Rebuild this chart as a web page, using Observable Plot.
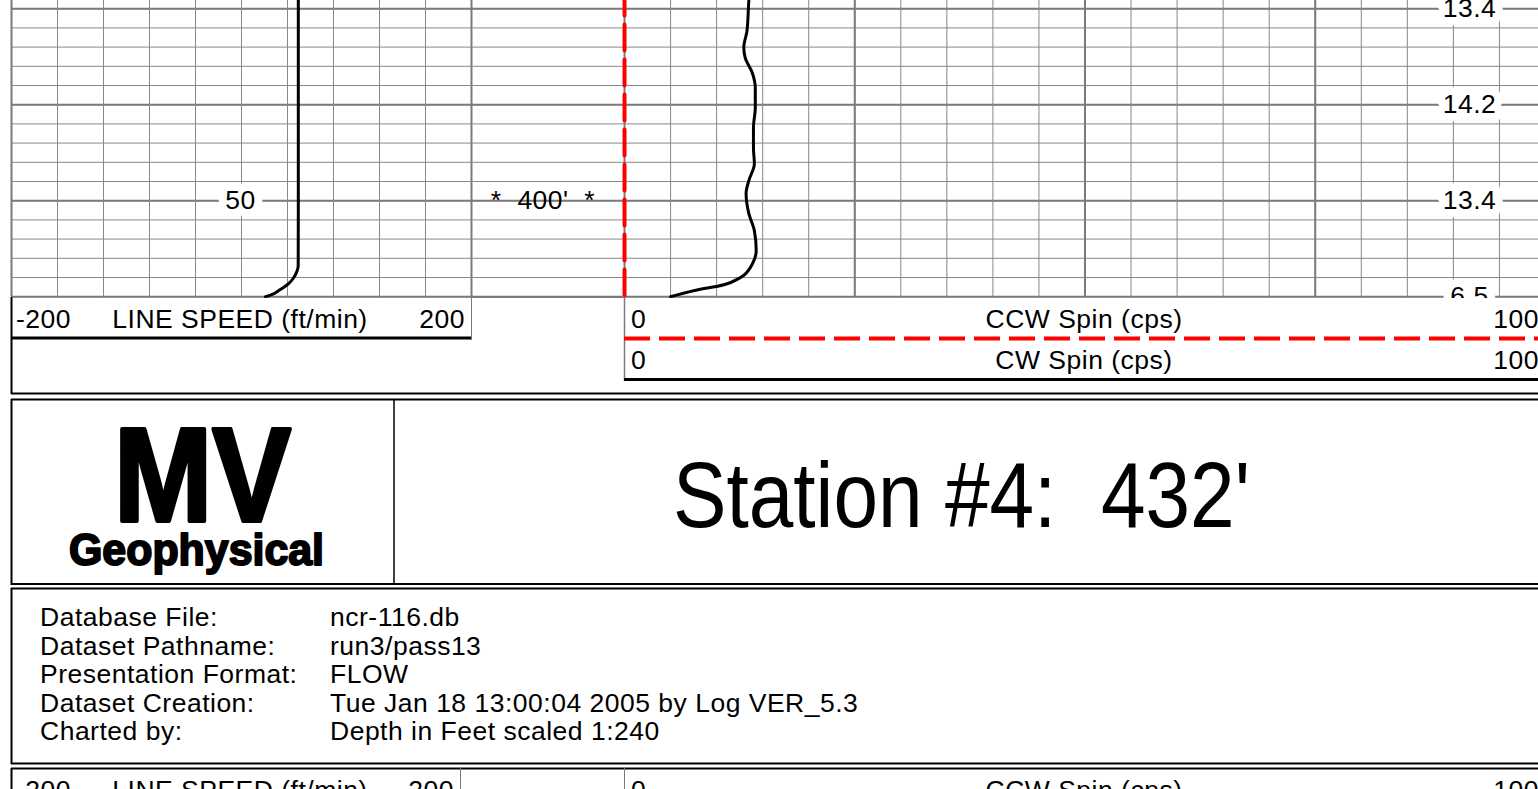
<!DOCTYPE html>
<html><head><meta charset="utf-8">
<script src="https://cdn.jsdelivr.net/npm/d3@7"></script>
<script src="https://cdn.jsdelivr.net/npm/@observablehq/plot@0.6"></script>
<style>
html,body{margin:0;padding:0;overflow:hidden;background:#fff;}
#page{position:relative;width:1538px;height:789px;overflow:hidden;}
#page svg{position:absolute;}
</style></head><body><div id="page"></div>
<script>
// ---------------- data ----------------
const speedDepth = [356, 380, 400, 413.5, 414.6, 416.0, 417.3, 418.1, 418.75, 419.4, 420];
const lineSpeed  = [49.4, 49.4, 49.4, 49.3, 48.4, 45.5, 40.9, 36.5, 32.2, 27.8, 20.9];

const spinDepth = [356, 358.3, 364.6, 368.1, 370.2, 373.5, 376.5, 380.6, 384.8, 389.0, 392.3, 395.8, 398.5, 402.7, 406.25, 410.4, 413.1, 416.0, 417.5, 418.75, 420];
const cwSpin    = [13.6, 13.5, 13.3, 12.95, 13.1, 13.9, 14.2, 14.2, 14.0, 14.0, 14.1, 13.5, 13.2, 13.5, 14.1, 14.3, 13.9, 12.6, 10.8, 7.5, 5.0];
const ccwDepth = [356, 420];
const ccwSpin  = [0, 0];

const speedLabelDepths = [400];
const speedLabelText   = ["50"];
const spinLabelDepths  = [360, 380, 400, 420];
const spinLabelText    = ["13.4", "14.2", "13.4", "6.5"];
const depthLabelDepths = [400];
const depthLabelText   = ["*  400'  *"];

const speedDomain = [-200, 200];
const spinDomain  = [0, 100];
const depthDomain = [356, 420];

const speedTitle = "LINE SPEED (ft/min)";
const ccwTitle = "CCW Spin (cps)";
const cwTitle  = "CW Spin (cps)";

const logoBig = "MV";
const logoSmall = "Geophysical";
const stationTitle = "Station #4:  432'";
const infoLabels = ["Database File:", "Dataset Pathname:", "Presentation Format:", "Dataset Creation:", "Charted by:"];
const infoValues = ["ncr-116.db", "run3/pass13", "FLOW", "Tue Jan 18 13:00:04 2005 by Log VER_5.3", "Depth in Feet scaled 1:240"];

// ---------------- layout ----------------
const FONT = "'Liberation Sans', Arial, sans-serif";
const FS = 26.5;
const PXFT = 4.8, M = 10;
const trackH = (depthDomain[1] - depthDomain[0]) * PXFT;
const yTop = 200 - (400 - depthDomain[0]) * PXFT;
const page = document.getElementById("page");

const depthMinor = d3.range(depthDomain[0], depthDomain[1] + 0.01, 4);
const depthMajor = depthMinor.filter(d => d % 20 === 0);
const GRID = "#888888", GRIDM = "#7a7a7a";

function track(left, width, xDomain, xTicks, xMajor, marks) {
  const p = Plot.plot({
    width: width + 2 * M, height: trackH + 2 * M, margin: M,
    x: {domain: xDomain, axis: null},
    y: {domain: depthDomain, reverse: true, axis: null},
    style: {background: "transparent", overflow: "visible", fontFamily: FONT, letterSpacing: "0.5px"},
    marks: [
      Plot.ruleY(depthMinor, {stroke: GRID, strokeWidth: 1}),
      Plot.ruleY(depthMajor, {stroke: GRIDM, strokeWidth: 2}),
      ...(xTicks ? [Plot.ruleX(xTicks, {stroke: GRID, strokeWidth: 1}), Plot.ruleX(xMajor, {stroke: GRIDM, strokeWidth: 2})] : []),
      ...marks
    ]
  });
  p.style.left = (left - M) + "px";
  p.style.top = (yTop - M) + "px";
  page.appendChild(p);
}

// left track: line speed
track(11, 460, speedDomain, d3.range(-200, 201, 40), speedDomain, [
  Plot.text(speedLabelDepths, {y: d => d, text: (d, i) => speedLabelText[i], frameAnchor: "middle", dx: -1,
    textAnchor: "middle", lineAnchor: "middle", fontSize: FS, fill: "black", stroke: "white", strokeWidth: 16, strokeLinejoin: "round"}),
  Plot.line(speedDepth.map((d, i) => ({d, v: lineSpeed[i]})), {x: "v", y: "d", stroke: "black", strokeWidth: 3, curve: "monotone-y"})
]);

// depth track (no grid)
track(471, 153, [0, 1], null, null, [
  Plot.text(depthLabelDepths, {y: d => d, text: (d, i) => depthLabelText[i], frameAnchor: "middle", dx: -5,
    textAnchor: "middle", lineAnchor: "middle", fontSize: FS, fill: "black"})
]);

// right track: spin
track(624, 921, spinDomain, d3.range(0, 101, 5), [0, 25, 50, 75, 100], [
  Plot.text(spinLabelDepths, {y: d => d, text: (d, i) => spinLabelText[i], frameAnchor: "right", dx: -76,
    textAnchor: "middle", lineAnchor: "middle", fontSize: FS, fill: "black", stroke: "white", strokeWidth: 16, strokeLinejoin: "round"}),
  Plot.line(ccwDepth.map((d, i) => ({d, v: ccwSpin[i]})), {x: "v", y: "d", stroke: "#ff0000", strokeWidth: 4, strokeDasharray: "26,9"}),
  Plot.line(spinDepth.map((d, i) => ({d, v: cwSpin[i]})), {x: "v", y: "d", stroke: "black", strokeWidth: 3, curve: "monotone-y"})
]);

// ---------------- header / frame overlay ----------------
const svg = d3.select(page).append("svg").attr("width", 1538).attr("height", 789)
  .style("left", "0px").style("top", "0px");
svg.append("rect").attr("x", 0).attr("y", 298).attr("width", 1538).attr("height", 96).attr("fill", "white");
svg.append("rect").attr("x", 0).attr("y", 394).attr("width", 1538).attr("height", 395).attr("fill", "white");

function ln(x1, y1, x2, y2, c, w, dash) {
  const l = svg.append("line").attr("x1", x1).attr("y1", y1).attr("x2", x2).attr("y2", y2)
    .attr("stroke", c).attr("stroke-width", w);
  if (dash) l.attr("stroke-dasharray", dash);
}
function txt(x, y, s, o = {}) {
  const t = svg.append("text").attr("x", x).attr("y", y).text(s)
    .attr("font-family", FONT).attr("font-size", o.size || FS)
    .attr("text-anchor", o.anchor || "start").attr("fill", "black")
    .style("letter-spacing", o.ls || "0.5px").style("white-space", "pre");
  if (o.weight) t.attr("font-weight", o.weight);
  if (o.stroke) t.attr("stroke", "black").attr("stroke-width", o.stroke).attr("stroke-linejoin", "round");
  if (o.len) t.attr("textLength", o.len).attr("lengthAdjust", "spacingAndGlyphs");
  return t;
}

// track bottom line across depth track
ln(471, 297, 624, 297, GRIDM, 2);
// left header
ln(471.5, 297, 471.5, 340, GRIDM, 1);
ln(11, 338, 471, 338, "black", 3);
txt(16, 328, String(speedDomain[0]));
txt(240, 328, speedTitle, {anchor: "middle"});
txt(465, 328, String(speedDomain[1]), {anchor: "end"});
// right header
ln(624.5, 297, 624.5, 381, GRIDM, 1.5);
ln(624, 338.5, 1538, 338.5, "#ff0000", 4, "26,9");
ln(624, 379.5, 1538, 379.5, "black", 3);
txt(631, 328, String(spinDomain[0]));
txt(1084, 328, ccwTitle, {anchor: "middle"});
txt(1539, 328, String(spinDomain[1]), {anchor: "end"});
txt(631, 369, String(spinDomain[0]));
txt(1084, 369, cwTitle, {anchor: "middle"});
txt(1539, 369, String(spinDomain[1]), {anchor: "end"});
// outer frame
ln(11.5, 297, 11.5, 394, "black", 2);
ln(11, 393.5, 1538, 393.5, "black", 2);

// logo / station box
ln(11, 399.5, 1538, 399.5, "black", 2);
ln(11.5, 399, 11.5, 585, "black", 2);
ln(394, 399, 394, 584, "black", 1.5);
ln(11, 584, 1538, 584, "black", 2);
txt(114, 521, logoBig, {size: 134, weight: "bold", stroke: 4, len: 177, ls: "0px"});
txt(69, 565, logoSmall, {size: 45, weight: "bold", stroke: 2, len: 255, ls: "0px"});
txt(673, 527, stationTitle, {size: 92, len: 577, ls: "0px"});

// info box
ln(11, 588.5, 1538, 588.5, "black", 2);
ln(11.5, 588, 11.5, 764, "black", 2);
ln(11, 763.5, 1538, 763.5, "black", 2);
infoLabels.forEach((s, i) => {
  txt(40, 626 + i * 28.5, s);
  txt(330, 626 + i * 28.5, infoValues[i]);
});

// next page header strip (cut off)
ln(11, 768.5, 1538, 768.5, "black", 2);
ln(11.5, 768, 11.5, 789, "black", 2);
ln(460.5, 768, 460.5, 789, GRIDM, 1);
ln(624.5, 768, 624.5, 789, GRIDM, 1);
txt(16, 799, String(speedDomain[0]));
txt(240, 799, speedTitle, {anchor: "middle"});
txt(454, 799, String(speedDomain[1]), {anchor: "end"});
txt(631, 799, String(spinDomain[0]));
txt(1084, 799, ccwTitle, {anchor: "middle"});
txt(1539, 799, String(spinDomain[1]), {anchor: "end"});
</script></body></html>
